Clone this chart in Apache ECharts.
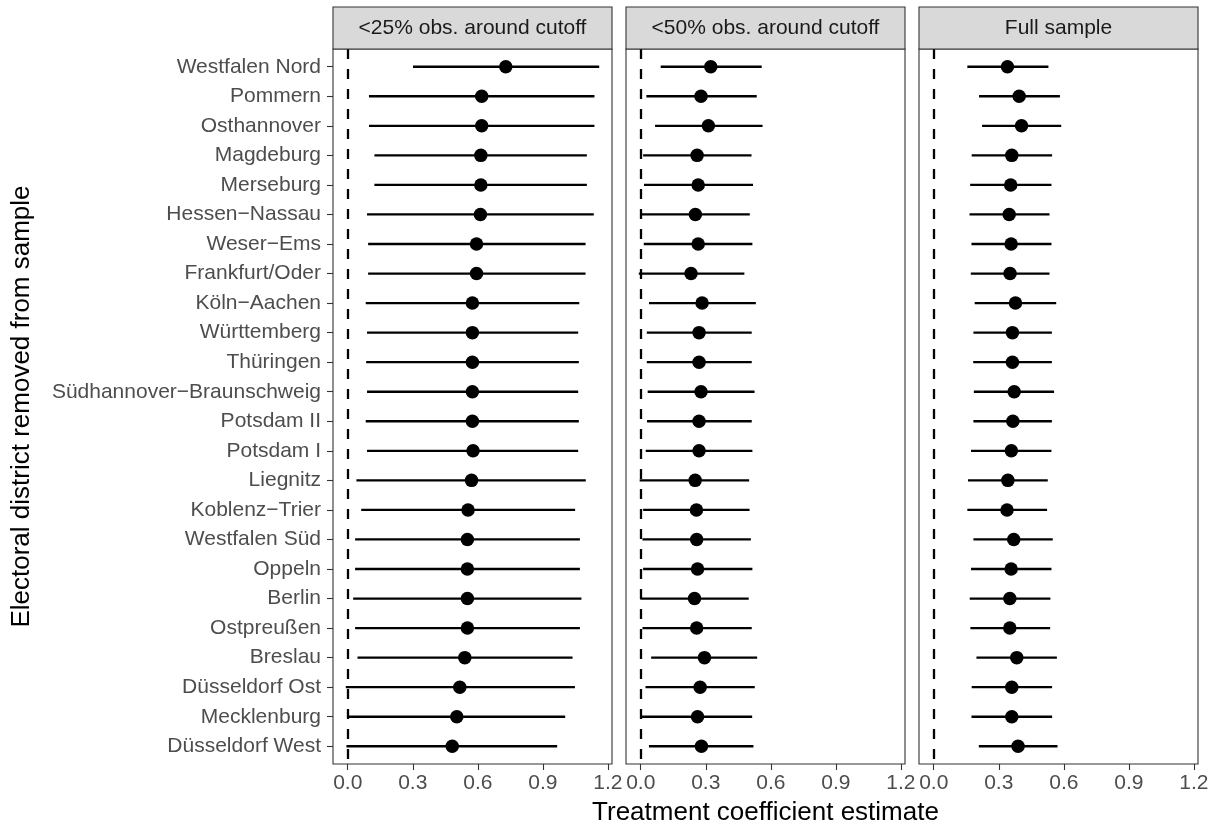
<!DOCTYPE html>
<html>
<head>
<meta charset="utf-8">
<title>Leave-one-district-out estimates</title>
<script src="https://cdn.jsdelivr.net/npm/echarts@6/dist/echarts.min.js"></script>
<style>
    html, body { margin: 0; padding: 0; background: #fff; }
    #chart { width: 1220px; height: 829px; }
</style>
</head>
<body>
<div id="chart"></div>
<script>
// districts, top to bottom
const districts = [
    'Westfalen Nord', 'Pommern', 'Osthannover', 'Magdeburg', 'Merseburg',
    'Hessen−Nassau', 'Weser−Ems', 'Frankfurt/Oder', 'Köln−Aachen', 'Württemberg',
    'Thüringen', 'Südhannover−Braunschweig', 'Potsdam II', 'Potsdam I', 'Liegnitz',
    'Koblenz−Trier', 'Westfalen Süd', 'Oppeln', 'Berlin', 'Ostpreußen',
    'Breslau', 'Düsseldorf Ost', 'Mecklenburg', 'Düsseldorf West'
];
const panelTitles = ['<25% obs. around cutoff', '<50% obs. around cutoff', 'Full sample'];
const xTicks = [0, 0.3, 0.6, 0.9, 1.2];

// <25% obs. around cutoff
const est25 = [0.729, 0.618, 0.618, 0.614, 0.614, 0.612, 0.594, 0.594, 0.575, 0.575, 0.575, 0.575,
    0.575, 0.578, 0.571, 0.555, 0.552, 0.552, 0.552, 0.552, 0.540, 0.517, 0.503, 0.482];
const low25 = [0.301, 0.098, 0.098, 0.123, 0.123, 0.089, 0.094, 0.094, 0.083, 0.089, 0.085, 0.089,
    0.083, 0.089, 0.040, 0.062, 0.034, 0.034, 0.025, 0.034, 0.045, -0.009, 0.002, -0.006];
const high25 = [1.160, 1.138, 1.138, 1.103, 1.103, 1.135, 1.097, 1.097, 1.068, 1.063, 1.066, 1.063,
    1.066, 1.063, 1.098, 1.049, 1.071, 1.071, 1.078, 1.071, 1.037, 1.048, 1.003, 0.966];

// <50% obs. around cutoff
const est50 = [0.323, 0.278, 0.312, 0.260, 0.265, 0.252, 0.265, 0.232, 0.283, 0.269, 0.269, 0.278,
    0.269, 0.269, 0.251, 0.257, 0.258, 0.262, 0.248, 0.258, 0.294, 0.274, 0.262, 0.280];
const low50 = [0.092, 0.026, 0.066, 0.011, 0.015, 0.003, 0.014, -0.009, 0.038, 0.028, 0.028, 0.032,
    0.029, 0.023, -0.005, 0.011, 0.008, 0.011, -0.002, 0.008, 0.048, 0.022, 0.000, 0.038];
const high50 = [0.558, 0.535, 0.562, 0.511, 0.518, 0.503, 0.515, 0.478, 0.531, 0.512, 0.512, 0.525,
    0.512, 0.515, 0.500, 0.502, 0.508, 0.515, 0.498, 0.512, 0.537, 0.526, 0.514, 0.520];

// Full sample
const estFull = [0.340, 0.394, 0.405, 0.360, 0.355, 0.348, 0.357, 0.352, 0.377, 0.363, 0.363, 0.371,
    0.365, 0.358, 0.342, 0.338, 0.369, 0.357, 0.351, 0.351, 0.383, 0.360, 0.360, 0.389];
const lowFull = [0.155, 0.209, 0.223, 0.175, 0.168, 0.165, 0.174, 0.171, 0.189, 0.183, 0.182, 0.185,
    0.183, 0.172, 0.158, 0.155, 0.183, 0.172, 0.166, 0.169, 0.197, 0.175, 0.174, 0.208];
const highFull = [0.529, 0.582, 0.588, 0.546, 0.543, 0.534, 0.543, 0.534, 0.565, 0.545, 0.545, 0.555,
    0.545, 0.543, 0.526, 0.523, 0.549, 0.543, 0.538, 0.537, 0.568, 0.546, 0.546, 0.571];

const panelData = [
    { est: est25, low: low25, high: high25 },
    { est: est50, low: low50, high: high50 },
    { est: estFull, low: lowFull, high: highFull }
];

const FONT = '"Liberation Sans", Arial, Helvetica, sans-serif';
const panelLeft = [333, 626, 919];
const panelWidth = 279;
const panelTop = 49;
const panelHeight = 715;
const stripTop = 7;

const rowIdx = districts.map((d, i) => i);

const chart = echarts.init(document.getElementById('chart'), null, { renderer: 'canvas' });

const grid = [], xAxis = [], yAxis = [], series = [], graphic = [];

panelData.forEach((p, i) => {
    grid.push({
        left: panelLeft[i], top: panelTop, width: panelWidth, height: panelHeight,
        show: true, borderColor: '#333333', borderWidth: 1.1, backgroundColor: '#ffffff',
        containLabel: false, outerBoundsMode: 'none'
    });

    xAxis.push({
        gridIndex: i, type: 'value', position: 'bottom', min: -0.068, max: 1.219,
        axisLine: { show: false, onZero: false },
        splitLine: { show: false },
        axisTick: { show: true, length: 6, customValues: xTicks, lineStyle: { color: '#333333', width: 1.1 } },
        axisLabel: {
            customValues: xTicks, formatter: v => v.toFixed(1),
            color: '#4D4D4D', fontSize: 21, fontFamily: FONT, margin: 9
        }
    });

    yAxis.push({
        gridIndex: i, type: 'value', position: 'left', min: -0.6, max: 23.6, inverse: true,
        axisLine: { show: false, onZero: false },
        splitLine: { show: false },
        axisTick: { show: i === 0, length: 6, customValues: rowIdx, lineStyle: { color: '#333333', width: 1.1 } },
        axisLabel: {
            show: i === 0, customValues: rowIdx, formatter: v => districts[v],
            color: '#4D4D4D', fontSize: 21, fontFamily: FONT, margin: 12
        }
    });

    // confidence intervals
    series.push({
        type: 'custom',
        xAxisIndex: i, yAxisIndex: i,
        silent: true,
        data: rowIdx.map(r => [r, p.low[r], p.high[r]]),
        encode: { x: [1, 2], y: 0 },
        renderItem: function (params, api) {
            const a = api.coord([api.value(1), api.value(0)]);
            const b = api.coord([api.value(2), api.value(0)]);
            return {
                type: 'line',
                shape: { x1: a[0], y1: a[1], x2: b[0], y2: b[1] },
                style: { stroke: '#000000', lineWidth: 2.3 }
            };
        },
        markLine: {
            silent: true, symbol: 'none', animation: false,
            label: { show: false },
            lineStyle: { color: '#000000', width: 2.3, type: [10, 10] },
            data: [{ xAxis: 0 }]
        }
    });

    // point estimates
    series.push({
        type: 'scatter',
        xAxisIndex: i, yAxisIndex: i,
        silent: true,
        symbol: 'circle', symbolSize: 13.5,
        itemStyle: { color: '#000000', opacity: 1 },
        data: rowIdx.map(r => [p.est[r], r])
    });

    // facet strip
    graphic.push({
        type: 'rect',
        shape: { x: panelLeft[i], y: stripTop, width: panelWidth, height: panelTop - stripTop },
        style: { fill: '#D9D9D9', stroke: '#333333', lineWidth: 1.1 },
        z: 10
    });
    graphic.push({
        type: 'text',
        x: panelLeft[i] + panelWidth / 2, y: (stripTop + panelTop) / 2,
        style: {
            text: panelTitles[i], fill: '#1A1A1A', fontSize: 21, fontFamily: FONT,
            textAlign: 'center', textVerticalAlign: 'middle'
        },
        z: 11
    });
});

// axis titles
graphic.push({
    type: 'text',
    x: (panelLeft[0] + panelLeft[2] + panelWidth) / 2, y: 813,
    style: {
        text: 'Treatment coefficient estimate', fill: '#000000', fontSize: 26, fontFamily: FONT,
        textAlign: 'center', textVerticalAlign: 'middle'
    }
});
graphic.push({
    type: 'text',
    x: 22, y: panelTop + panelHeight / 2,
    rotation: Math.PI / 2,
    style: {
        text: 'Electoral district removed from sample', fill: '#000000', fontSize: 26, fontFamily: FONT,
        textAlign: 'center', textVerticalAlign: 'middle'
    }
});

const option = {
    backgroundColor: '#ffffff',
    animation: false,
    grid: grid,
    xAxis: xAxis,
    yAxis: yAxis,
    series: series,
    graphic: graphic
};

chart.setOption(option);

window.addEventListener('resize', function () {
    chart.resize();
});
</script>
</body>
</html>
